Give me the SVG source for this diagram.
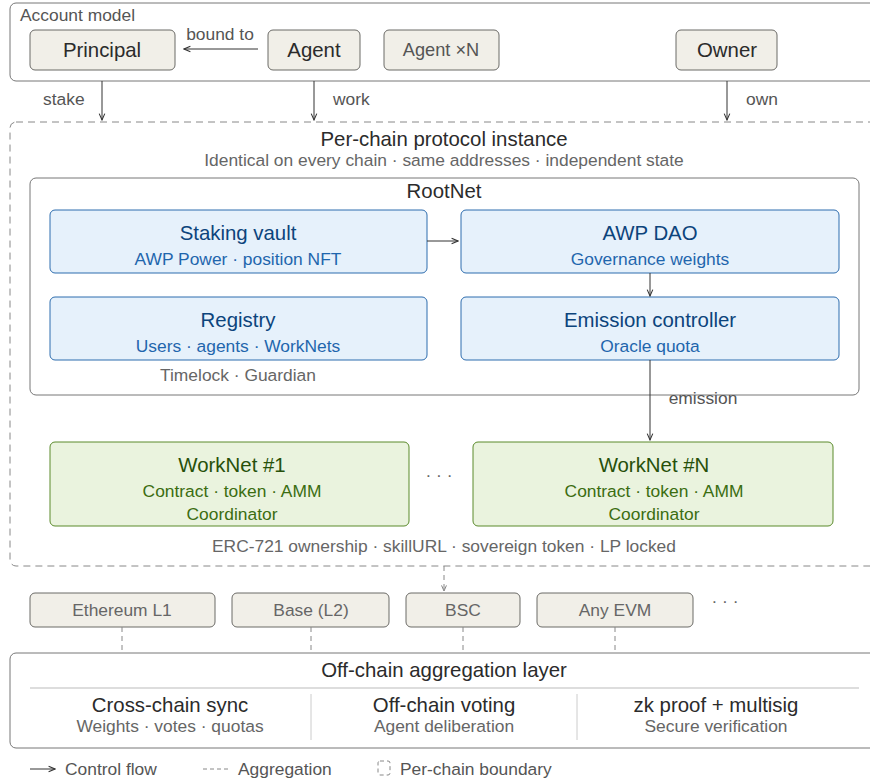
<svg xmlns="http://www.w3.org/2000/svg" width="870" height="780" viewBox="0 0 870 780">
<defs>
<marker id="arr" viewBox="0 0 10 10" refX="9" refY="5" markerWidth="8" markerHeight="8" orient="auto-start-reverse" markerUnits="userSpaceOnUse"><path d="M1,1.5 L9,5 L1,8.5" fill="none" stroke="#333" stroke-width="1.3"/></marker>
<marker id="arrg" viewBox="0 0 10 10" refX="9" refY="5" markerWidth="7" markerHeight="7" orient="auto" markerUnits="userSpaceOnUse"><path d="M1,1.5 L9,5 L1,8.5" fill="none" stroke="#777" stroke-width="1.3"/></marker>
<style>
text{font-family:"Liberation Sans",Arial,sans-serif}
.n{fill:#f1efe8;stroke:#6b6a66;stroke-width:1}
.b{fill:#e6f1fb;stroke:#2c6cae;stroke-width:1}
.g{fill:#eaf3de;stroke:#5a8a2a;stroke-width:1}
.frame{fill:#fff;stroke:#777;stroke-width:1}
.dframe{fill:none;stroke:#888;stroke-width:1;stroke-dasharray:7 5}
.t{fill:#2b2b2b;font-size:20.4px;text-anchor:middle}
.tb{fill:#0c447c;font-size:20.4px;text-anchor:middle}
.sb{fill:#1f66ad;font-size:17.4px;text-anchor:middle}
.tg{fill:#27500a;font-size:20.4px;text-anchor:middle}
.sg{fill:#3b6d11;font-size:17.4px;text-anchor:middle}
.lbl{fill:#555;font-size:17.4px}
.sub{fill:#666;font-size:17.4px;text-anchor:middle}
.ct{fill:#666;font-size:17.4px;text-anchor:middle}
.line{stroke:#333;stroke-width:1;fill:none}
.dash{stroke:#888;stroke-width:1;fill:none;stroke-dasharray:5 4}
</style>
</defs>

<g id="account-model">
<rect x="10" y="3" width="880" height="78" rx="6" class="frame"/>
<text x="20" y="21" class="lbl">Account model</text>
</g>
<g id="principal"><rect x="30" y="30" width="145" height="40" rx="5" class="n"/><text x="102" y="57" class="t">Principal</text></g>
<g id="agent"><rect x="268" y="30" width="92" height="40" rx="5" class="n"/><text x="314" y="57" class="t">Agent</text></g>
<g id="agent-n"><rect x="384" y="30" width="115" height="40" rx="5" class="n"/><text x="441" y="56" class="ct" style="fill:#555;font-size:18.2px">Agent ×N</text></g>
<g id="owner"><rect x="676" y="30" width="101" height="40" rx="5" class="n"/><text x="727" y="57" class="t">Owner</text></g>

<g id="per-chain">
<rect x="10" y="122" width="880" height="444" rx="6" class="dframe"/>
<text x="444" y="146" class="t">Per-chain protocol instance</text>
<text x="444" y="166" class="sub">Identical on every chain · same addresses · independent state</text>
</g>
<g id="rootnet">
<rect x="30" y="178" width="829" height="217" rx="6" class="frame"/>
<text x="444" y="198" class="t">RootNet</text>
<text x="238" y="381" class="sub">Timelock · Guardian</text>
</g>
<g id="staking-vault"><rect x="50" y="210" width="377" height="63" rx="5" class="b"/><text x="238" y="240" class="tb">Staking vault</text><text x="238" y="265" class="sb">AWP Power · position NFT</text></g>
<g id="awp-dao"><rect x="461" y="210" width="378" height="63" rx="5" class="b"/><text x="650" y="240" class="tb">AWP DAO</text><text x="650" y="265" class="sb">Governance weights</text></g>
<g id="registry"><rect x="50" y="297" width="377" height="63" rx="5" class="b"/><text x="238" y="327" class="tb">Registry</text><text x="238" y="352" class="sb">Users · agents · WorkNets</text></g>
<g id="emission-controller"><rect x="461" y="297" width="378" height="63" rx="5" class="b"/><text x="650" y="327" class="tb">Emission controller</text><text x="650" y="352" class="sb">Oracle quota</text></g>

<g id="worknet-1"><rect x="50" y="442" width="359" height="84" rx="5" class="g"/><text x="232" y="472" class="tg">WorkNet #1</text><text x="232" y="497" class="sg">Contract · token · AMM</text><text x="232" y="520" class="sg">Coordinator</text></g>
<g id="worknet-n"><rect x="473" y="442" width="360" height="84" rx="5" class="g"/><text x="654" y="472" class="tg">WorkNet #N</text><text x="654" y="497" class="sg">Contract · token · AMM</text><text x="654" y="520" class="sg">Coordinator</text></g>
<text x="439" y="481" class="sub">· · ·</text>
<text x="444" y="552" class="sub">ERC-721 ownership · skillURL · sovereign token · LP locked</text>

<g id="ethereum"><rect x="30" y="593" width="185" height="34" rx="5" class="n"/><text x="122" y="616" class="ct">Ethereum L1</text></g>
<g id="base"><rect x="232" y="593" width="157" height="34" rx="5" class="n"/><text x="311" y="616" class="ct">Base (L2)</text></g>
<g id="bsc"><rect x="406" y="593" width="114" height="34" rx="5" class="n"/><text x="463" y="616" class="ct">BSC</text></g>
<g id="any-evm"><rect x="537" y="593" width="156" height="34" rx="5" class="n"/><text x="615" y="616" class="ct">Any EVM</text></g>
<text x="725" y="607" class="sub">· · ·</text>

<g id="off-chain">
<rect x="10" y="653" width="880" height="95" rx="6" class="frame"/>
<text x="444" y="677" class="t">Off-chain aggregation layer</text>
<line x1="30" y1="688" x2="859" y2="688" stroke="#bbb" stroke-width="1"/>
<line x1="311" y1="694" x2="311" y2="740" stroke="#ccc" stroke-width="1"/>
<line x1="577" y1="694" x2="577" y2="740" stroke="#ccc" stroke-width="1"/>
<text x="170" y="712" class="t">Cross-chain sync</text><text x="170" y="732" class="sub">Weights · votes · quotas</text>
<text x="444" y="712" class="t">Off-chain voting</text><text x="444" y="732" class="sub">Agent deliberation</text>
<text x="716" y="712" class="t">zk proof + multisig</text><text x="716" y="732" class="sub">Secure verification</text>
</g>

<g id="connectors">
<line x1="258" y1="49" x2="184" y2="49" class="line" marker-end="url(#arr)"/>
<text x="220" y="40" class="lbl" text-anchor="middle">bound to</text>
<line x1="102" y1="81" x2="102" y2="120" class="line" marker-end="url(#arr)"/>
<text x="43" y="105" class="lbl">stake</text>
<line x1="314" y1="81" x2="314" y2="120" class="line" marker-end="url(#arr)"/>
<text x="333" y="105" class="lbl">work</text>
<line x1="727" y1="81" x2="727" y2="120" class="line" marker-end="url(#arr)"/>
<text x="746" y="105" class="lbl">own</text>
<line x1="427" y1="241" x2="458" y2="241" class="line" marker-end="url(#arr)"/>
<line x1="650" y1="273" x2="650" y2="296" class="line" marker-end="url(#arr)"/>
<line x1="650" y1="360" x2="650" y2="440" class="line" marker-end="url(#arr)"/>
<text x="703" y="404" class="ct" style="fill:#555">emission</text>
<line x1="444" y1="566" x2="444" y2="591" class="dash" marker-end="url(#arrg)"/>
<line x1="122" y1="627" x2="122" y2="653" class="dash"/>
<line x1="311" y1="627" x2="311" y2="653" class="dash"/>
<line x1="463" y1="627" x2="463" y2="653" class="dash"/>
<line x1="615" y1="627" x2="615" y2="653" class="dash"/>
</g>

<g id="legend">
<line x1="30" y1="769" x2="55" y2="769" class="line" marker-end="url(#arr)"/>
<text x="65" y="775" class="lbl">Control flow</text>
<line x1="203" y1="769" x2="228" y2="769" class="dash" style="stroke-dasharray:4 3"/>
<text x="238" y="775" class="lbl">Aggregation</text>
<rect x="378" y="761" width="12" height="14" rx="2" fill="none" stroke="#888" stroke-width="1" stroke-dasharray="4 3"/>
<text x="400" y="775" class="lbl">Per-chain boundary</text>
</g>
</svg>
